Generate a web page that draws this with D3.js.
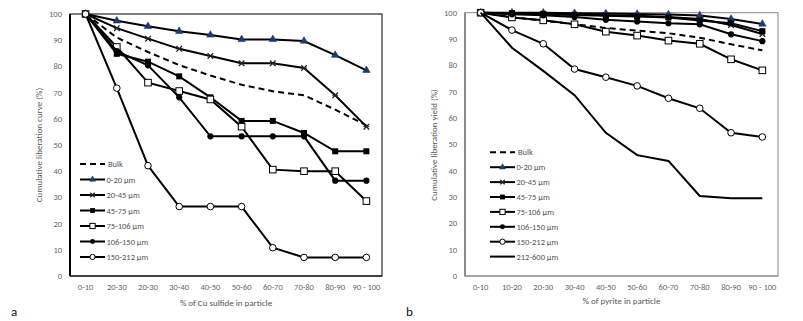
<!DOCTYPE html>
<meta charset="utf-8">
<head>
<script src="https://d3js.org/d3.v7.min.js"></script>
<style>
  body { margin: 0; background: #fff; }
  text { font-family: Calibri, Carlito, "Liberation Sans", Arial, sans-serif; }
</style>
</head>
<body>
<svg id="chart" width="803" height="321"></svg>
<script>
// ---- data ----
var labelsA = ["0-10","20-30","20-30","30-40","40-50","50-60","60-70","70-80","80-90","90 - 100"];
var labelsB = ["0-10","10-20","20-30","30-40","40-50","50-60","60-70","70-80","80-90","90 - 100"];
var yTicks = [0,10,20,30,40,50,60,70,80,90,100];

// panel a : % of Cu sulfide
var bulkA    = [100, 91, 85.5, 80.5, 76.5, 73, 70.5, 69, 63.5, 57.5];
var a0_20    = [100, 97.4, 95.3, 93.4, 92, 90.3, 90.3, 89.7, 84.3, 78.5];
var a20_45   = [100, 94.6, 90.6, 86.7, 84, 81.2, 81.2, 79.4, 69, 57];
var a45_75   = [100, 84.8, 81.8, 76.2, 68.2, 59.2, 59.2, 54.6, 47.6, 47.6];
var a75_106  = [100, 87.4, 73.8, 70.6, 67.4, 57, 40.6, 40, 40, 28.6];
var a106_150 = [100, 85.8, 80.4, 68.2, 53.3, 53.3, 53.3, 53.3, 36.4, 36.4];
var a150_212 = [100, 71.7, 42.1, 26.5, 26.5, 26.5, 10.8, 7.1, 7.1, 7.1];

// panel b : % of pyrite
var bulkB    = [100, 98.3, 97, 95.6, 94.2, 93.2, 92.2, 90.5, 88, 85.7];
var b0_20    = [100, 100, 100, 99.8, 99.7, 99.5, 99.3, 98.9, 97.6, 95.7];
var b20_45   = [100, 99.8, 99.6, 99.3, 99, 98.8, 98.4, 97.6, 95.3, 91.9];
var b45_75   = [100, 99.8, 99.5, 99.1, 98.8, 98.6, 98.2, 97, 96, 93];
var b75_106  = [100, 98.2, 97.1, 95.6, 92.8, 91.3, 89.4, 88.2, 82.3, 78.1];
var b106_150 = [100, 99.4, 99, 98.4, 97.3, 96.7, 96, 95.6, 91.8, 89.2];
var b150_212 = [100, 93.4, 88.2, 78.6, 75.5, 72.2, 67.5, 63.7, 54.4, 52.8];
var b212_600 = [100, 86.7, 77.9, 68.7, 54.4, 45.9, 43.7, 30.4, 29.5, 29.5];

var svg = d3.select("#chart");

// k scales the marker (legend markers are drawn smaller)
function marker(g, type, x, y, k) {
  k = k || 1;
  if (type == "tri") {
    g.append("path").attr("d", d3.symbol().type(d3.symbolTriangle).size(24 * k * k)())
      .attr("transform", "translate(" + x + "," + y + ")")
      .attr("fill", "#1f3a6e").attr("stroke", "#1f3a6e").attr("stroke-width", 0.6);
  } else if (type == "star") {
    g.append("path").attr("d", d3.symbol().type(d3.symbolTimes).size(22 * k * k)())
      .attr("transform", "translate(" + x + "," + y + ")")
      .attr("fill", "none").attr("stroke", "#222").attr("stroke-width", 1.3);
    g.append("line").attr("x1", x - 3 * k).attr("x2", x + 3 * k).attr("y1", y).attr("y2", y)
      .attr("stroke", "#222").attr("stroke-width", 1);
  } else if (type == "sq") {
    g.append("rect").attr("x", x - 3 * k).attr("y", y - 3 * k).attr("width", 6 * k).attr("height", 6 * k)
      .attr("fill", "#000");
  } else if (type == "osq") {
    g.append("rect").attr("x", x - 3.3 * k).attr("y", y - 3.3 * k).attr("width", 6.6 * k).attr("height", 6.6 * k)
      .attr("fill", "#fff").attr("stroke", "#000").attr("stroke-width", 1);
  } else if (type == "dot") {
    g.append("circle").attr("cx", x).attr("cy", y).attr("r", 3.1 * k).attr("fill", "#000");
  } else if (type == "odot") {
    g.append("circle").attr("cx", x).attr("cy", y).attr("r", 3.3 * k)
      .attr("fill", "#fff").attr("stroke", "#000").attr("stroke-width", 1);
  }
}

function panel(cfg) {
  var x = d3.scalePoint().domain(d3.range(10)).range([cfg.left, cfg.right]).padding(0.5);
  var y = d3.scaleLinear().domain([0, 100]).range([276, cfg.top]);
  var g = svg.append("g");

  // frame
  g.append("rect").attr("x", cfg.left).attr("y", cfg.top)
    .attr("width", cfg.right - cfg.left).attr("height", 276 - cfg.top)
    .attr("fill", "none").attr("stroke", cfg.frame).attr("stroke-width", 1);
  g.append("line").attr("x1", cfg.left).attr("x2", cfg.left).attr("y1", cfg.top).attr("y2", 276)
    .attr("stroke", cfg.axisCol).attr("stroke-width", cfg.axisW);
  g.append("line").attr("x1", cfg.left).attr("x2", cfg.right).attr("y1", 276).attr("y2", 276)
    .attr("stroke", cfg.frame).attr("stroke-width", 1);

  // y tick labels
  g.selectAll(".yt").data(yTicks).enter().append("text")
    .attr("x", cfg.left - 8).attr("y", function(d){ return y(d) + 3; })
    .attr("text-anchor", "end").attr("font-size", 8.5).attr("fill", "#666")
    .text(function(d){ return d; });
  // x tick labels
  g.selectAll(".xt").data(cfg.labels).enter().append("text")
    .attr("x", function(d, i){ return x(i); }).attr("y", 290)
    .attr("text-anchor", "middle").attr("font-size", 8.5).attr("fill", "#666")
    .text(function(d){ return d; });

  g.append("text").attr("x", (cfg.left + cfg.right) / 2).attr("y", cfg.xTitleY)
    .attr("text-anchor", "middle").attr("font-size", 9).attr("fill", "#555").text(cfg.xTitle);
  g.append("text").attr("transform", "translate(" + cfg.yTitleX + ",145) rotate(-90)")
    .attr("text-anchor", "middle").attr("font-size", 9).attr("fill", "#555").text(cfg.yTitle);
  g.append("text").attr("x", cfg.tagX).attr("y", 316).attr("font-size", 13)
    .attr("font-family", "Arial, sans-serif").attr("fill", "#111").text(cfg.tag);

  var line = d3.line().x(function(d, i){ return x(i); }).y(function(d){ return y(d); });

  // series
  cfg.series.forEach(function(s) {
    g.append("path").datum(s.values).attr("d", line)
      .attr("fill", "none").attr("stroke", "#000").attr("stroke-width", 2)
      .attr("stroke-dasharray", s.dash ? "6,4" : null);
    if (s.mark) s.values.forEach(function(v, i){ marker(g, s.mark, x(i), y(v)); });
  });

  // legend
  cfg.series.forEach(function(s, k) {
    var ly = cfg.legY + k * cfg.legStep;
    g.append("line").attr("x1", cfg.legX).attr("x2", cfg.legX + 25).attr("y1", ly).attr("y2", ly)
      .attr("stroke", "#000").attr("stroke-width", 2)
      .attr("stroke-dasharray", s.dash ? "6,4" : null);
    if (s.mark) marker(g, s.mark, cfg.legX + 12.5, ly, 0.8);
    g.append("text").attr("x", cfg.legX + (s.dash ? 28 : 26.5)).attr("y", ly + 3)
      .attr("font-size", 8.5).attr("fill", "#555").text(s.name);
  });
}

panel({
  left: 70, right: 382, top: 14, frame: "#000", axisCol: "#000", axisW: 2,
  labels: labelsA, xTitle: "% of Cu sulfide in particle", xTitleY: 306,
  yTitle: "Cumulative liberation curve (%)", yTitleX: 42, tag: "a", tagX: 11,
  legX: 80, legY: 164, legStep: 15.5,
  series: [
    {name: "Bulk", values: bulkA, dash: true},
    {name: "0-20 µm", values: a0_20, mark: "tri"},
    {name: "20-45 µm", values: a20_45, mark: "star"},
    {name: "45-75 µm", values: a45_75, mark: "sq"},
    {name: "75-106 µm", values: a75_106, mark: "osq"},
    {name: "106-150 µm", values: a106_150, mark: "dot"},
    {name: "150-212 µm", values: a150_212, mark: "odot"}
  ]
});

panel({
  left: 465, right: 778, top: 12.7, frame: "#888", axisCol: "#666", axisW: 1.2,
  labels: labelsB, xTitle: "% of pyrite in particle", xTitleY: 304,
  yTitle: "Cumulative liberation yield (%)", yTitleX: 437, tag: "b", tagX: 406,
  legX: 490, legY: 152.3, legStep: 14.9,
  series: [
    {name: "Bulk", values: bulkB, dash: true},
    {name: "0-20 µm", values: b0_20, mark: "tri"},
    {name: "20-45 µm", values: b20_45, mark: "star"},
    {name: "45-75 µm", values: b45_75, mark: "sq"},
    {name: "75-106 µm", values: b75_106, mark: "osq"},
    {name: "106-150 µm", values: b106_150, mark: "dot"},
    {name: "150-212 µm", values: b150_212, mark: "odot"},
    {name: "212-600 µm", values: b212_600}
  ]
});
</script>
</body>
